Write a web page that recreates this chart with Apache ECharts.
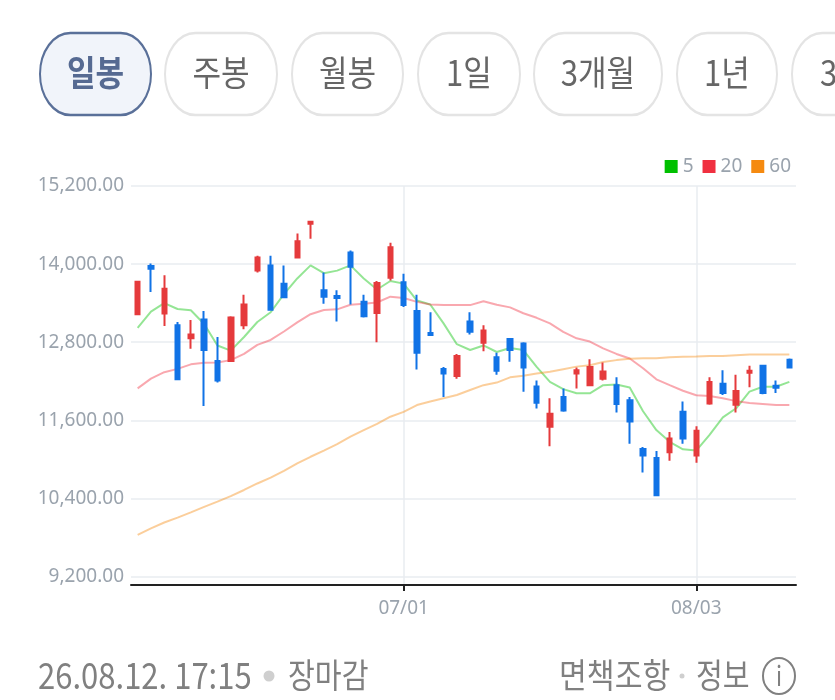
<!DOCTYPE html>
<html><head><meta charset="utf-8">
<style>html,body{margin:0;padding:0;background:#fff}#c{width:835px;height:700px}</style>
<script src="https://cdn.jsdelivr.net/npm/echarts@6/dist/echarts.min.js"></script>
</head><body><div id="c"></div>
<script>
const categories=['06/02','06/04','06/05','06/08','06/09','06/10','06/11','06/12','06/15','06/16','06/17','06/18','06/19','06/22','06/23','06/24','06/25','06/26','06/29','06/30',
'07/01','07/02','07/03','07/06','07/07','07/08','07/09','07/10','07/13','07/14','07/15','07/16','07/20','07/21','07/22','07/23','07/24','07/27','07/28','07/29','07/30','07/31',
'08/03','08/04','08/05','08/06','08/07','08/10','08/11','08/12'];
// open, close, low, high
const ohlc=[[13230,13730,13220,13740],[13970,13930,13570,14010],[13240,13620,13050,13830],[13060,12230,12230,13110],[12860,12920,12700,13140],
[13150,12680,11820,13280],[12510,12210,12180,12880],[12510,13180,12500,13200],[13060,13380,13000,13530],[13900,14100,13870,14130],
[13980,13300,13300,14130],[13700,13490,13480,13980],[14100,14350,14090,14470],[14620,14650,14390,14660],[13600,13500,13390,13870],
[13510,13480,13120,13600],[14180,13960,13380,14210],[13420,13200,13180,13530],[13250,13710,12800,13740],[13790,14260,13750,14330],
[13720,13370,13340,13850],[13280,12640,12380,13530],[12940,12910,12910,13260],[12390,12320,11960,12420],[12280,12590,12240,12620],
[13120,12960,12920,13260],[12790,12980,12660,13060],[12570,12360,12300,12640],[12850,12680,12500,12850],[12780,12410,12040,12800],
[12120,11870,11780,12210],[11500,11700,11200,11940],[11960,11750,11730,12090],[12320,12370,12090,12410],[12140,12420,12130,12540],
[12240,12350,12210,12490],[12140,11850,11720,12260],[11910,11580,11240,11960],[11160,11060,10800,11190],[11020,10450,10450,11130],
[11110,11320,10980,11420],[11730,11320,11240,11890],[11060,11440,10950,11510],[11860,12190,11840,12260],[12160,12020,11990,12370],
[11840,12050,11720,12300],[12330,12360,12110,12440],[12440,12020,12000,12440],[12130,12100,12020,12210],[12530,12410,12410,12550]];
const ma5=[13020,13270,13400,13310,13290,13080,12750,12670,12880,13110,13260,13540,13780,13980,13860,13900,13980,13780,13610,13740,
13700,13440,13380,13090,12770,12680,12750,12650,12710,12680,12420,12190,12080,12015,12015,12140,12150,12105,11740,11450,
11270,11155,11135,11375,11645,11785,12040,12115,12115,12190];
const ma20=[12090,12240,12340,12390,12460,12485,12490,12525,12620,12760,12835,12965,13105,13230,13295,13305,13375,13390,13410,13500,
13480,13420,13380,13370,13370,13370,13430,13375,13335,13245,13175,13090,12960,12860,12810,12705,12620,12550,12400,12230,
12140,12055,11985,11975,11940,11895,11865,11850,11835,11835];
const ma60=[9840,9940,10030,10105,10185,10270,10350,10435,10530,10630,10720,10825,10940,11040,11135,11235,11350,11450,11545,11655,
11730,11835,11890,11940,11990,12065,12140,12180,12260,12285,12320,12345,12385,12425,12445,12495,12525,12545,12555,12555,
12570,12575,12580,12590,12590,12600,12610,12610,12610,12610];
const yTicks=[9200,10400,11600,12800,14000,15200];
const xShown=['07/01','08/03'];
const pillLabels=['일봉','주봉','월봉','1일','3개월','1년','3년'];
const pillBoxes=[[40,111],[165,112],[292,111],[418,102],[534,128],[677,100],[792,102]];
const stampText='26.08.12. 17:15',statusText='장마감',noticeText='면책조항',infoText='정보';

const KR='"Noto Sans CJK KR"',LAT='"Noto Sans"';
const showX=(i,v)=>xShown.includes(v);
const PY=33,PH=82,SY=1.35;
const g=[];
pillLabels.forEach((t,i)=>{
  const [x,w]=pillBoxes[i],act=i===0;
  g.push({type:'rect',x:x,y:PY,scaleY:SY,silent:true,
    shape:{x:0,y:0,width:w,height:PH/SY,r:PH/SY/2},
    style:{fill:act?'#f1f4fa':'#fff',stroke:act?'#5a7099':'#e4e4e4',lineWidth:2}});
  g.push({type:'text',x:x+w/2,y:PY+PH/2-1,scaleX:1.11,scaleY:1.25,silent:true,
    style:{text:t,textAlign:'center',textVerticalAlign:'middle',font:(act?'700 ':'400 ')+'28px '+KR,fill:act?'#566a92':'#666'}});
});
const FT=675,grey='#808080';
const ft=(text,x,align,font,sx)=>g.push({type:'text',x:x,y:FT,scaleY:1.25,scaleX:sx||1,silent:true,
  style:{text:text,textAlign:align,textVerticalAlign:'middle',font:font,fill:grey}});
ft(stampText,38,'left','400 29px '+KR,1.07);
ft(statusText,288,'left','400 27px '+KR,1.08);
ft(noticeText,559,'left','400 27px '+KR,1.12);
ft(infoText,696,'left','400 27px '+KR,1.08);
g.push({type:'circle',silent:true,shape:{cx:269,cy:FT+1,r:5.5},style:{fill:'#cfcfcf'}});
g.push({type:'circle',silent:true,shape:{cx:682,cy:FT+1,r:2.5},style:{fill:'#cfcfcf'}});
g.push({type:'ellipse',silent:true,shape:{cx:779,cy:FT+1,rx:16,ry:18},style:{fill:'none',stroke:grey,lineWidth:2}});
g.push({type:'text',silent:true,x:779,y:FT+1,scaleY:1.2,style:{text:'i',textAlign:'center',textVerticalAlign:'middle',font:'400 22px '+KR,fill:grey}});

const line=(name,data,color)=>({name,type:'line',data,showSymbol:false,symbol:'none',z:2,
  itemStyle:{color},lineStyle:{color,width:2,opacity:0.42}});
const chart=echarts.init(document.getElementById('c'),null,{renderer:'canvas'});
chart.setOption({
  animation:false,
  grid:{left:131,width:665,top:186,height:399,containLabel:false},
  legend:{data:['5','20','60'],right:39,top:152,icon:'rect',itemWidth:13,itemHeight:13,itemGap:9,
    textStyle:{color:'#9aa3ad',fontSize:19,fontFamily:LAT,padding:[2,0,0,0]},selectedMode:false},
  xAxis:{type:'category',data:categories,
    axisLine:{lineStyle:{color:'#222',width:2}},
    axisTick:{show:true,interval:showX,alignWithLabel:true,length:6,lineStyle:{color:'#222',width:2}},
    axisLabel:{interval:showX,color:'#9aa3ad',fontSize:19,fontFamily:LAT,margin:14},
    splitLine:{show:true,interval:showX,alignWithLabel:true,lineStyle:{color:'#e9ecf1',width:1.5}}},
  yAxis:{type:'value',min:9070,max:15200,
    axisLine:{show:false},
    axisTick:{show:false,customValues:yTicks},
    axisLabel:{customValues:yTicks,showMinLabel:true,showMaxLabel:true,color:'#9aa3ad',fontSize:19,fontFamily:LAT,margin:7,padding:[3,0,0,0],
      formatter:v=>v.toLocaleString('en-US',{minimumFractionDigits:2,maximumFractionDigits:2})},
    splitLine:{show:true,lineStyle:{color:'#e9ecf1',width:1.5}}},
  series:[
    line('5',ma5,'#00c000'),
    line('20',ma20,'#f03040'),
    line('60',ma60,'#f58a10'),
    {type:'candlestick',name:'price',data:ohlc,barWidth:5,z:3,
     itemStyle:{color:'#e53a3c',color0:'#1173e6',borderColor:'#e53a3c',borderColor0:'#1173e6',borderWidth:2}}
  ],
  graphic:g
});
</script></body></html>
